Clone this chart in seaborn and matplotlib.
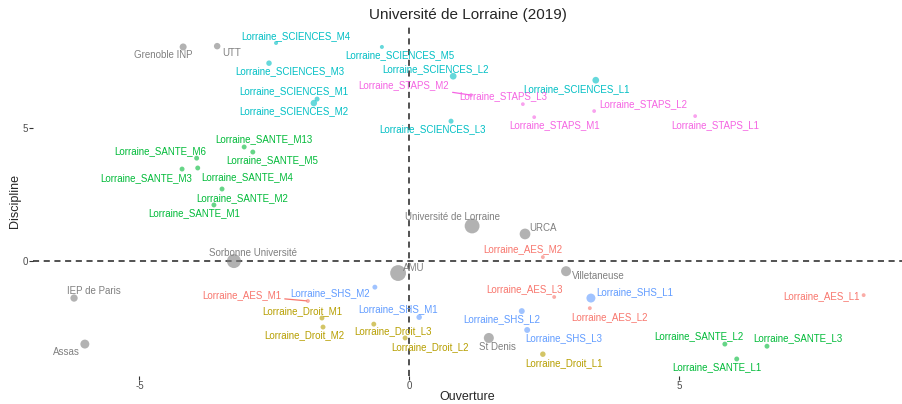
import pandas as pd
import matplotlib.pyplot as plt
import numpy as np
import seaborn as sns

# etablissements hors Lorraine (gris) + formations Lorraine par discipline
noms = ["Grenoble INP", "UTT", "Université de Lorraine", "URCA", "Sorbonne Université",
        "AMU", "Villetaneuse", "IEP de Paris", "Assas", "St Denis",
        "Lorraine_SCIENCES_M4", "Lorraine_SCIENCES_M5", "Lorraine_SCIENCES_M3",
        "Lorraine_SCIENCES_M1", "Lorraine_SCIENCES_M2", "Lorraine_SCIENCES_L2",
        "Lorraine_SCIENCES_L1", "Lorraine_SCIENCES_L3",
        "Lorraine_STAPS_M2", "Lorraine_STAPS_L3", "Lorraine_STAPS_M1",
        "Lorraine_STAPS_L2", "Lorraine_STAPS_L1",
        "Lorraine_SANTE_M13", "Lorraine_SANTE_M5", "Lorraine_SANTE_M6", "Lorraine_SANTE_M3",
        "Lorraine_SANTE_M4", "Lorraine_SANTE_M2", "Lorraine_SANTE_M1",
        "Lorraine_SANTE_L2", "Lorraine_SANTE_L3", "Lorraine_SANTE_L1",
        "Lorraine_AES_M2", "Lorraine_AES_L3", "Lorraine_AES_L2", "Lorraine_AES_L1", "Lorraine_AES_M1",
        "Lorraine_SHS_M2", "Lorraine_SHS_M1", "Lorraine_SHS_L1", "Lorraine_SHS_L2", "Lorraine_SHS_L3",
        "Lorraine_Droit_M1", "Lorraine_Droit_M2", "Lorraine_Droit_L3", "Lorraine_Droit_L2",
        "Lorraine_Droit_L1"]

groupes = (["Autre"] * 10 + ["SCIENCES"] * 8 + ["STAPS"] * 5 + ["SANTE"] * 10
           + ["AES"] * 5 + ["SHS"] * 5 + ["Droit"] * 5)

ouverture = [-4.19, -3.56, 1.16, 2.14, -3.25, -0.21, 2.90, -6.21, -6.01, 1.47,
             -2.47, -0.51, -2.60, -1.71, -1.77, 0.81, 3.45, 0.77,
             1.14, 2.10, 2.31, 3.42, 5.29,
             -3.06, -2.90, -3.94, -4.21, -3.92, -3.47, -3.62, 5.84, 6.62, 6.06,
             2.47, 2.68, 3.34, 8.41, -1.88,
             -0.64, 0.18, 3.36, 2.08, 2.18,
             -1.62, -1.60, -0.66, -0.08, 2.47]

discipline = [8.05, 8.08, 1.32, 1.02, 0.00, -0.45, -0.38, -1.39, -3.12, -2.89,
              8.20, 8.05, 7.44, 6.09, 5.94, 6.95, 6.80, 5.26,
              6.24, 5.90, 5.41, 5.64, 5.45,
              4.29, 4.10, 3.87, 3.46, 3.50, 2.71, 2.11, -3.12, -3.20, -3.68,
              0.15, -1.35, -1.77, -1.28, -1.50,
              -0.98, -2.11, -1.39, -1.88, -2.59,
              -2.14, -2.48, -2.37, -2.89, -3.50]

effectif = [4900, 4200, 22000, 11500, 19500, 25000, 10000, 5300, 8000, 10000,
            1600, 1600, 3000, 2500, 4200, 4500, 4500, 2500,
            1400, 1400, 1400, 1400, 1400,
            2400, 2400, 2400, 2400, 2400, 2400, 2400, 2400, 2400, 2400,
            1500, 1500, 1500, 1500, 1500,
            2400, 3000, 8000, 3500, 3500,
            2400, 2400, 2400, 2400, 3000]

# decalage des etiquettes (pixels, y vers le bas)
label_dx = [-20, 14, -20, 18, 19, 16, 32, 20, -18, 9,
            20, 18, 21, -23, -20, -18, -19, -19,
            -67, -20, 20, 49, 20,
            20, 19, -36, -36, 49, 20, -20, -26, 31, -20,
            -20, -30, 20, -42, -66,
            -45, -21, 44, -20, 37,
            -20, -19, 19, 25, 21]
label_dy = [8, 7, -9, -6, -8, -5, 5, -7, 8, 9,
            -7, 8, 8, -8, 8, -7, 9, 8,
            -10, -8, 8, -7, 9,
            -8, 8, -7, 9, 9, 9, 8, -8, -8, 8,
            -8, -8, 9, 1, -6,
            6, -8, -6, 8, 8,
            -7, 8, 7, 9, 9]
avec_segment = ["Lorraine_STAPS_M2", "Lorraine_AES_M1"]

couleurs = {"Autre": "#808080", "AES": "#F8766D", "Droit": "#B79F00", "SANTE": "#00BA38",
            "SCIENCES": "#00BFC4", "SHS": "#619CFF", "STAPS": "#F564E3"}

df = pd.DataFrame({"nom": noms, "groupe": groupes, "Ouverture": ouverture,
                   "Discipline": discipline, "effectif": effectif})

sns.set_style("white")
plt.rcParams["font.family"] = ["Liberation Sans", "DejaVu Sans"]

fig = plt.figure(figsize=(9.02, 4.04), dpi=100)
ax = fig.add_axes([33 / 902, 28 / 404, 869 / 902, 349 / 404])

ax.axhline(0, color="#222222", lw=1.1, ls=(0, (4, 3)), zorder=1)
ax.axvline(0, color="#222222", lw=1.1, ls=(0, (4, 3)), zorder=1)

sns.scatterplot(data=df, x="Ouverture", y="Discipline", hue="groupe", size="effectif",
                palette=couleurs, sizes=(0, 133), size_norm=(0, 25600),
                alpha=0.6, linewidth=0, legend=False, ax=ax, zorder=2)

for i, row in df.iterrows():
    col = couleurs[row["groupe"]]
    dx = label_dx[i] * 0.72
    dy = -label_dy[i] * 0.72
    if row["nom"] in avec_segment:
        ax.annotate(row["nom"], xy=(row["Ouverture"], row["Discipline"]),
                    xytext=(dx, dy), textcoords="offset points", ha="center", va="center",
                    fontsize=7, color=col,
                    arrowprops=dict(arrowstyle="-", color=col, lw=0.9, shrinkA=0, shrinkB=1))
    else:
        ax.annotate(row["nom"], xy=(row["Ouverture"], row["Discipline"]),
                    xytext=(dx, dy), textcoords="offset points", ha="center", va="center",
                    fontsize=7, color=col)

ax.set_xlim(-6.97, 9.12)
ax.set_ylim(-4.32, 8.80)
ax.set_xticks([-5, 0, 5])
ax.set_yticks([0, 5])
ax.set_xticklabels(["-5", "0", "5"])
ax.set_yticklabels(["0", "5"])
sns.despine(ax=ax, left=True, bottom=True)
ax.tick_params(axis="both", length=2.8, width=0.8, color="#333333", labelcolor="#4D4D4D",
               labelsize=7, pad=1, left=True, bottom=True)
ax.set_xlabel("Ouverture", fontsize=9, labelpad=0)
ax.set_ylabel("Discipline", fontsize=9, labelpad=1)
ax.set_title("Université de Lorraine (2019)", fontsize=11, pad=6)

fig.savefig("out.png", dpi=100)
